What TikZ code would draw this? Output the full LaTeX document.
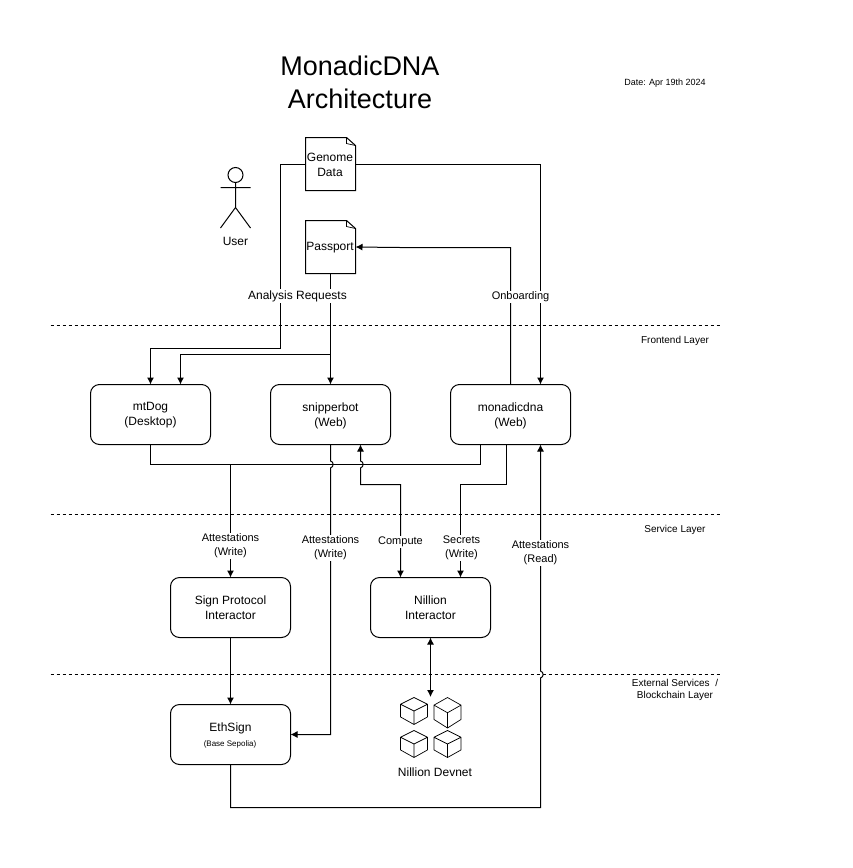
\documentclass[tikz,border=0pt]{standalone}
\usepackage{fontspec}
\setmainfont{Liberation Sans}
\usetikzlibrary{arrows.meta}
\tikzset{
  every node/.style={inner sep=0pt,outer sep=0pt},
  box/.style={draw,line width=1pt,rounded corners=9pt,minimum width=120pt,minimum height=60pt},
  docbox/.style={minimum width=50pt,minimum height=53pt},
  txt/.style={align=center,font=\fontsize{12}{15}\selectfont},
  edgelabel/.style={fill=white,align=center,inner sep=1pt,font=\fontsize{11}{14}\selectfont},
  layerlabel/.style={align=center,font=\fontsize{10}{12}\selectfont},
  conn/.style={draw,line width=1pt,line join=miter},
  arr/.style={conn,-{Latex[length=7pt,width=7pt]}},
  biarr/.style={conn,{Latex[length=7pt,width=7pt]}-{Latex[length=7pt,width=7pt]}},
  layerline/.style={line width=0.8pt,dash pattern=on 3pt off 3pt},
}
\newcommand{\docfold}[1]{%
  \draw[line width=1pt,line join=miter,fill=white] (#1.north west) -- ([xshift=-9pt]#1.north east) -- ([yshift=-8pt]#1.north east) -- (#1.south east) -- (#1.south west) -- cycle;
  \draw[line width=0.7pt,line join=miter] ([xshift=-9pt]#1.north east) -- ([xshift=-9pt,yshift=-6pt]#1.north east) -- ([yshift=-8pt]#1.north east);
}
\newcommand{\cube}[4]{% cx, top y, half width, height
  \draw[line width=0.7pt,line join=round]
    (#1,#2) -- (#1+#3,#2+#4*0.25) -- (#1+#3,#2+#4*0.72) -- (#1,#2+#4) -- (#1-#3,#2+#4*0.72) -- (#1-#3,#2+#4*0.25) -- cycle
    (#1-#3,#2+#4*0.25) -- (#1,#2+#4*0.5) -- (#1+#3,#2+#4*0.25)
    (#1,#2+#4*0.5) -- (#1,#2+#4);
}
\begin{document}
\begin{tikzpicture}[x=1pt,y=-1pt]
\useasboundingbox[fill=white] (0,0) rectangle (852,868);

% titles
\node[align=center,font=\fontsize{27}{33}\selectfont] (title) at (360,82) {MonadicDNA\\Architecture};
\node[font=\fontsize{9}{11}\selectfont] (date) at (665,82.7) {Date: Apr 19th 2024};

% layer separators
\draw[layerline] (50.5,325.5) -- (720,325.5);
\draw[layerline] (50.5,514.5) -- (720,514.5);
\draw[layerline] (50.5,674.5) -- (720,674.5);
\node[layerlabel] (lf) at (675,341) {Frontend Layer};
\node[layerlabel] (ls) at (675,530) {Service Layer};
\node[layerlabel] (le) at (675,690) {External Services \ /\\Blockchain Layer};

% user
\draw[line width=1pt] (235.5,175) circle (7.5);
\draw[line width=1pt] (235.5,182.5) -- (235.5,207.5) (220.5,187.5) -- (250.5,187.5) (220.5,228) -- (235.5,207.5) -- (250.5,228);
\node[txt] (user) at (235.5,241.5) {User};

% nodes
\node[docbox] (genome) at (330.5,164) {};
\node[docbox] (passport) at (330.5,247) {};
\node[box] (mtdog) at (150.5,414.5) {};
\node[box] (snipper) at (330.5,414.5) {};
\node[box] (mono) at (510.5,414.5) {};
\node[box] (sign) at (230.5,607.5) {};
\node[box] (nillion) at (430.5,607.5) {};
\node[box] (ethsign) at (230.5,734.5) {};
\docfold{genome}
\docfold{passport}

% node texts
\node[txt] (genometext) at (330,165) {Genome\\Data};
\node[txt] (passporttext) at (330,248) {Passport};
\node[txt] (mtdogtext) at (150.5,415.5) {mtDog\\(Desktop)};
\node[txt] (snippertext) at (330.5,415.5) {snipperbot\\(Web)};
\node[txt] (monotext) at (510.5,415.5) {monadicdna\\(Web)};
\node[txt] (signtext) at (230.5,608) {Sign Protocol\\Interactor};
\node[txt] (nilliontext) at (430.5,608) {Nillion\\Interactor};
\node[txt] (ethname) at (230.5,728) {EthSign};
\node[font=\fontsize{8}{10}\selectfont] (ethsub) at (230,744) {(Base Sepolia)};

% devnet cubes
\cube{414}{697.5}{13.5}{27}
\cube{447.5}{697.5}{13.5}{30.5}
\cube{414}{730.5}{13.5}{27}
\cube{447.5}{730.5}{13.5}{27}
\coordinate (devnet) at (430.5,697);
\node[txt] (devlabel) at (435,772) {Nillion Devnet};

% connectors
\coordinate (branchA) at (330.5,354.5);
\coordinate (branchB) at (230.5,464.5);
\path[arr] (genome.west) -- (280.5,164) -- (280.5,348) -- (150.5,348) -- (mtdog.north);
\path[arr] (passport.south) -- (snipper.north);
\path[arr] (branchA) -- (180.5,354.5) -- ([xshift=30pt]mtdog.north);
\path[arr] (genome.east) -- (540.5,164) -- ([xshift=30pt]mono.north);
\path[arr] (mono.north) -- (510.5,247.5) -- (400,247.5) -- (passport.east);
\path[conn] (mtdog.south) -- (150.5,464.5) -- (480.5,464.5) -- ([xshift=-30pt]mono.south);
\path[arr] (branchB) -- (sign.north);
\path[arr] (snipper.south) -- (330.5,461) .. controls (334,461.5) and (334,467) .. (330.5,468) -- (330.5,734.5) -- (ethsign.east);
\path[biarr] ([xshift=30pt]snipper.south) -- (360.5,461) .. controls (364,461.5) and (364,467) .. (360.5,468) -- (360.5,484.5) -- (400.5,484.5) -- ([xshift=-30pt]nillion.north);
\path[arr] ([xshift=-4pt]mono.south) -- (506.5,484.5) -- (460.5,484.5) -- ([xshift=30pt]nillion.north);
\path[arr] (ethsign.south) -- (230.5,807.5) -- (540.5,807.5) -- (540.5,678) .. controls (544,677) and (544,672) .. (540.5,671) -- ([xshift=30pt]mono.south);
\path[arr] (sign.south) -- (ethsign.north);
\path[biarr] (nillion.south) -- (devnet);

% connector labels
\node[edgelabel,font=\fontsize{12}{15}\selectfont] (l1) at (297.5,296) {Analysis Requests};
\node[edgelabel] (l2) at (520.5,297) {Onboarding};
\node[edgelabel] (l3) at (230.5,546) {Attestations\\(Write)};
\node[edgelabel] (l4) at (330.5,548) {Attestations\\(Write)};
\node[edgelabel] (l5) at (400.5,542) {Compute};
\node[edgelabel] (l6) at (461.5,548) {Secrets\\(Write)};
\node[edgelabel] (l7) at (540.5,553) {Attestations\\(Read)};
\end{tikzpicture}
\end{document}
